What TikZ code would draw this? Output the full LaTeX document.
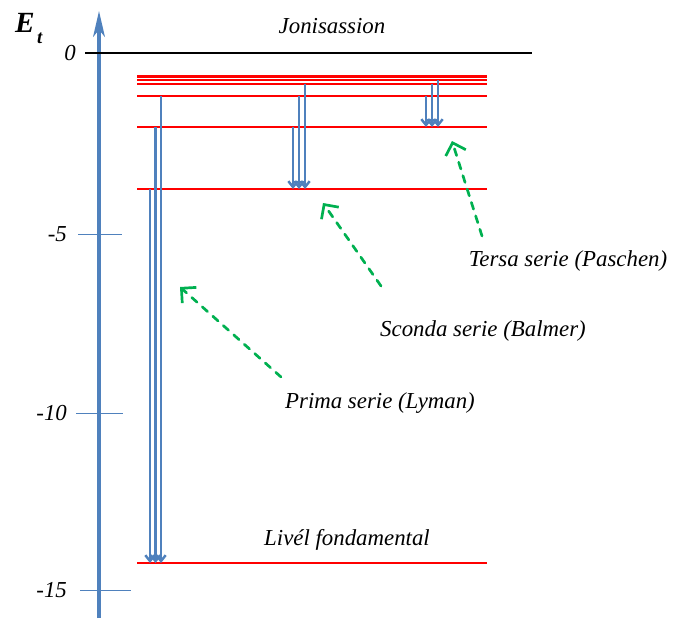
\documentclass[tikz,border=0pt]{standalone}
\usepackage{fontspec}
\setmainfont{Liberation Serif}
\usetikzlibrary{arrows.meta}
\definecolor{axisblue}{RGB}{79,129,189}
\definecolor{hintgreen}{RGB}{0,176,80}
\definecolor{levelred}{RGB}{255,0,0}

\begin{document}
\begin{tikzpicture}[x=0.03cm, y=-0.03cm,
  level/.style={draw=levelred, line width=1.05pt},
  trans/.style={draw=axisblue, line width=2.1pt, -{Straight Barb[length=5pt, width=8pt]}},
  hint/.style={draw=hintgreen, line width=2.3pt, line cap=round, dash pattern=on 6pt off 6pt, -{Straight Barb[length=9pt, width=18pt]}},
  lbl/.style={font=\itshape\fontsize{19.5}{22}\selectfont},
  tickmark/.style={draw=axisblue, line width=0.6pt}
]
\useasboundingbox (0,0) rectangle (676,618);

% energy axis
\coordinate (ax0) at (99,618);
\coordinate (ax1) at (99,11);
\draw[axisblue, line width=3pt, -{Stealth[length=22pt, width=10pt, inset=6pt]}] (ax0) -- (ax1);
\node[font=\bfseries\itshape\fontsize{25}{27}\selectfont] (et) at (25,23) {E};
\node[font=\bfseries\itshape\fontsize{16}{17}\selectfont, anchor=west] (ets) at (33,38) {t};

% ticks
\coordinate (t5a) at (78,234);  \coordinate (t5b) at (122,234);
\coordinate (t10a) at (76,413); \coordinate (t10b) at (123,413);
\coordinate (t15a) at (80,590); \coordinate (t15b) at (131,590);
\draw[tickmark] (t5a) -- (t5b);
\draw[tickmark] (t10a) -- (t10b);
\draw[tickmark] (t15a) -- (t15b);
\node[lbl, anchor=east] (v0) at (80,53) {0};
\node[lbl, anchor=east] (v5) at (71,234) {-5};
\node[lbl, anchor=east] (v10) at (71,413) {-10};
\node[lbl, anchor=east] (v15) at (71,590) {-15};

% ionisation limit
\coordinate (ion0) at (85,53);
\coordinate (ion1) at (532,53);
\draw[black, line width=0.9pt] (ion0) -- (ion1);
\node[lbl] (ion) at (332,26) {Jonisassion};

% levels
\foreach \lv/\yy in {n1/563, n2/189, n3/127, n4/96, n5/84, n6/80, n7/77, n8/75.5} {
  \coordinate (\lv a) at (137,\yy);
  \coordinate (\lv b) at (487,\yy);
  \draw[level] (\lv a) -- (\lv b);
}
\node[lbl] (fond) at (347,540) {Livél fondamental};

% transitions
\foreach \i/\x/\ya/\yb in {ly2/150/189/563, ly3/155.5/127/563, ly4/161/96/563,
  ba3/293/127/189, ba4/299/96/189, ba5/305/84/189,
  pa4/426/96/127, pa5/432/84/127, pa6/438/80/127} {
  \coordinate (\i s) at (\x,\ya);
  \coordinate (\i e) at (\x,\yb);
  \draw[trans] (\i s) -- (\i e);
}

% series labels
\node[lbl] (pas) at (568,261) {Tersa serie (Paschen)};
\node[lbl] (bal) at (483,331) {Sconda serie (Balmer)};
\node[lbl] (lym) at (380,403) {Prima serie (Lyman)};

\coordinate (pasT) at (482,236); \coordinate (pasH) at (452,141);
\coordinate (balT) at (381,286); \coordinate (balH) at (323,203);
\coordinate (lymT) at (281,377); \coordinate (lymH) at (180,287);
\draw[hint] (pasT) -- (pasH);
\draw[hint] (balT) -- (balH);
\draw[hint] (lymT) -- (lymH);
\end{tikzpicture}
\end{document}
